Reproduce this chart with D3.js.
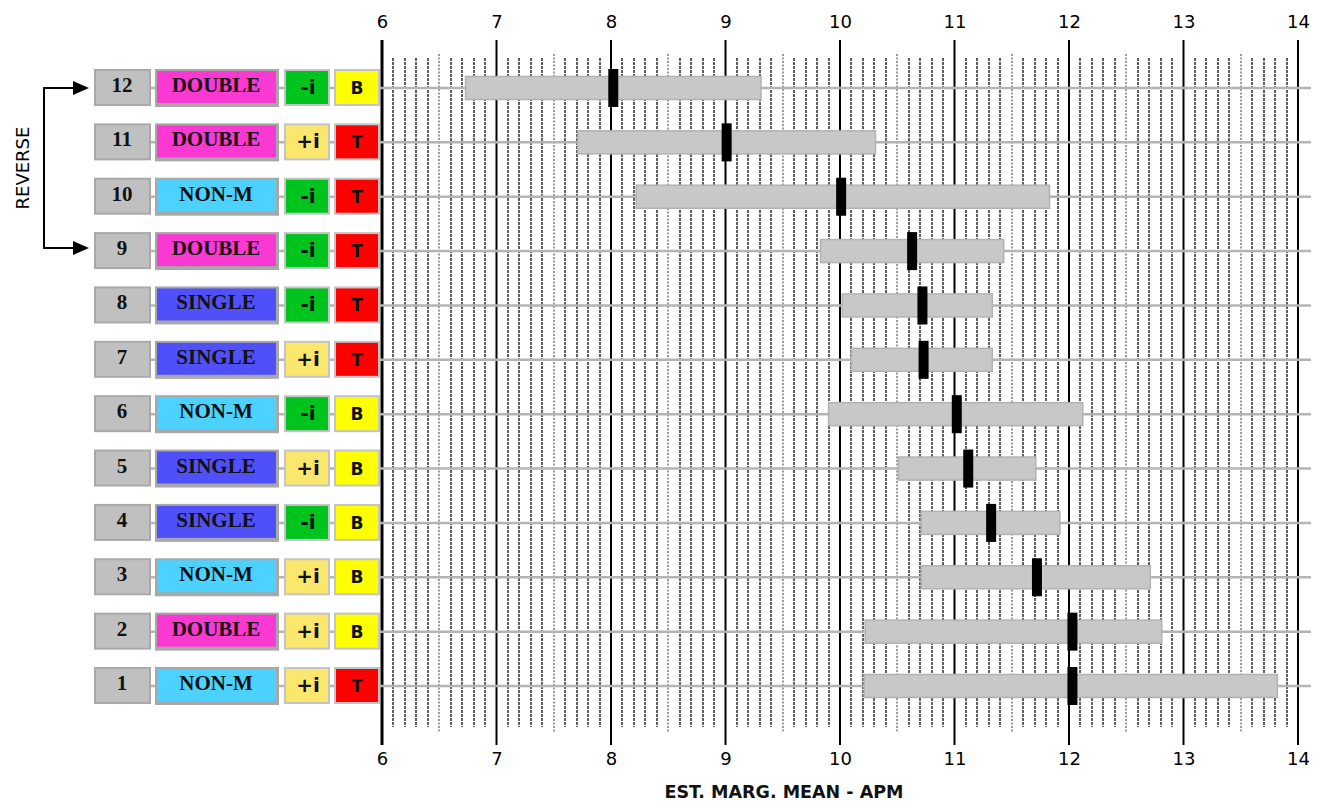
<!DOCTYPE html>
<html>
<head>
<meta charset="utf-8">
<script src="https://cdn.jsdelivr.net/npm/d3@7"></script>
<style>
  html, body { margin: 0; padding: 0; background: #fff; }
  svg { display: block; }
</style>
</head>
<body>
<svg id="chart" width="1324" height="802"></svg>
<script>
// Condition rows, listed top to bottom
const rowIds   = [12, 11, 10, 9, 8, 7, 6, 5, 4, 3, 2, 1];
const designs  = ["DOUBLE", "DOUBLE", "NON-M", "DOUBLE", "SINGLE", "SINGLE", "NON-M", "SINGLE", "SINGLE", "NON-M", "DOUBLE", "NON-M"];
const inclines = ["-i", "+i", "-i", "-i", "-i", "+i", "-i", "+i", "-i", "+i", "+i", "+i"];
const places   = ["B", "T", "T", "T", "T", "T", "B", "B", "B", "B", "B", "T"];

// Estimated marginal means and interval bounds
const means  = [8.02, 9.01, 10.01, 10.63, 10.72, 10.73, 11.02, 11.12, 11.32, 11.72, 12.03, 12.03];
const lowers = [6.73, 7.71, 8.22, 9.83, 10.02, 10.10, 9.90, 10.51, 10.71, 10.71, 10.22, 10.21];
const uppers = [9.31, 10.31, 11.83, 11.43, 11.33, 11.33, 12.12, 11.71, 11.92, 12.71, 12.81, 13.82];

// Axis ticks
const majorTicks = [6, 7, 8, 9, 10, 11, 12, 13, 14];
const axisTitle = "EST. MARG. MEAN - APM";

const designColor = { "DOUBLE": "#fa38d2", "NON-M": "#4dd2ff", "SINGLE": "#5050fa" };
const inclineColor = { "-i": "#00c41e", "+i": "#fbe76e" };
const placeColor = { "T": "#ff0000", "B": "#ffff00" };

const svg = d3.select("#chart");
const x = d3.scaleLinear().domain([6, 14]).range([382, 1298]);
const y = d3.scalePoint().domain(rowIds).range([88, 686]);

const rows = rowIds.map((id, i) => ({
  id, design: designs[i], incline: inclines[i], place: places[i],
  mean: means[i], lo: lowers[i], hi: uppers[i]
}));

// Minor grid at every tenth; the half-unit lines are finer and a bit longer
const minor = d3.range(61, 140).filter(v => v % 10 !== 0).map(v => v / 10);
const isHalf = d => Math.round(d * 10) % 5 === 0;
svg.append("g").selectAll("line").data(minor).join("line")
  .attr("x1", d => Math.round(x(d))).attr("x2", d => Math.round(x(d)))
  .attr("y1", d => isHalf(d) ? 54 : 58)
  .attr("y2", d => isHalf(d) ? 732 : 727)
  .attr("stroke", d => isHalf(d) ? "#7a7a7a" : "#5e5e5e")
  .attr("stroke-width", d => isHalf(d) ? 1.5 : 2)
  .attr("stroke-dasharray", d => isHalf(d) ? "2,1.5" : "3,1");

// Major axis lines
svg.append("g").selectAll("line").data(majorTicks).join("line")
  .attr("x1", d => x(d)).attr("x2", d => x(d))
  .attr("y1", 40).attr("y2", 745)
  .attr("stroke", "#000")
  .attr("stroke-width", d => d === 6 ? 3 : 2);

// Tick labels, top and bottom, via d3 axes
const axisTop = d3.axisTop(x).tickValues(majorTicks).tickSize(0).tickPadding(0);
const axisBottom = d3.axisBottom(x).tickValues(majorTicks).tickSize(0).tickPadding(0);
const gTop = svg.append("g").attr("transform", "translate(0,28)").call(axisTop);
const gBot = svg.append("g").attr("transform", "translate(0,752)").call(axisBottom);
[gTop, gBot].forEach(g => {
  g.select(".domain").remove();
  g.selectAll("text")
    .attr("font-family", "DejaVu Sans, sans-serif")
    .attr("font-size", 18)
    .attr("fill", "#000");
});
gTop.selectAll("text").attr("dy", 0);
gBot.selectAll("text").attr("dy", "0.71em");

svg.append("text")
  .attr("x", 784).attr("y", 798)
  .attr("text-anchor", "middle")
  .attr("font-family", "DejaVu Sans, sans-serif")
  .attr("font-weight", "bold")
  .attr("font-size", 17.5)
  .attr("fill", "#111")
  .text(axisTitle);

// Row guide lines
svg.append("g").selectAll("line").data(rows).join("line")
  .attr("x1", 150).attr("x2", 1311)
  .attr("y1", d => y(d.id)).attr("y2", d => y(d.id))
  .attr("stroke", "#b4b4b4").attr("stroke-width", 2.5);

// Interval bars
svg.append("g").selectAll("rect").data(rows).join("rect")
  .attr("x", d => x(d.lo)).attr("width", d => x(d.hi) - x(d.lo))
  .attr("y", d => y(d.id) - 11.5).attr("height", 23)
  .attr("fill", "#c8c8c8").attr("stroke", "#b2b2b2").attr("stroke-width", 1.5);

// Mean markers
svg.append("g").selectAll("rect").data(rows).join("rect")
  .attr("x", d => x(d.mean) - 5).attr("width", 10)
  .attr("y", d => y(d.id) - 19).attr("height", 38)
  .attr("fill", "#000");

// Label boxes
const lab = svg.append("g").selectAll("g").data(rows).join("g")
  .attr("transform", d => `translate(0,${y(d.id)})`);

// number box
lab.append("rect").attr("x", 95).attr("y", -18).attr("width", 55).attr("height", 35)
  .attr("fill", "#c0c0c0").attr("stroke", "#a9a9a9").attr("stroke-width", 2);
lab.append("text").attr("x", 122).attr("y", 4)
  .attr("text-anchor", "middle")
  .attr("font-family", "Liberation Serif, serif").attr("font-weight", "bold")
  .attr("font-size", 21).attr("fill", "#111")
  .text(d => d.id);

// design box with heavier lower edge
lab.append("rect").attr("x", 155).attr("y", -19).attr("width", 124).attr("height", 38)
  .attr("fill", "#a8a8a8");
lab.append("rect").attr("x", 157).attr("y", -17).attr("width", 119).attr("height", 32)
  .attr("fill", d => designColor[d.design]);
lab.append("text").attr("x", 216).attr("y", 4)
  .attr("text-anchor", "middle")
  .attr("font-family", "Liberation Serif, serif").attr("font-weight", "bold")
  .attr("font-size", 21).attr("fill", "#111")
  .text(d => d.design);

// incline box
lab.append("rect").attr("x", 285).attr("y", -18).attr("width", 44).attr("height", 35)
  .attr("fill", d => inclineColor[d.incline]).attr("stroke", "#c4c4c4").attr("stroke-width", 2);
lab.append("text").attr("x", 308).attr("y", 6)
  .attr("text-anchor", "middle")
  .attr("font-family", "DejaVu Sans, sans-serif").attr("font-weight", "bold")
  .attr("font-size", 20).attr("fill", "#111")
  .text(d => d.incline);

// place box
lab.append("rect").attr("x", 335).attr("y", -18).attr("width", 44).attr("height", 35)
  .attr("fill", d => placeColor[d.place]).attr("stroke", "#c4c4c4").attr("stroke-width", 2);
lab.append("text").attr("x", 357).attr("y", 6)
  .attr("text-anchor", "middle")
  .attr("font-family", "DejaVu Sans, sans-serif").attr("font-weight", "bold")
  .attr("font-size", 17).attr("fill", "#111")
  .text(d => d.place);

// Reverse bracket between rows 12 and 9
const yA = y(12), yB = y(9) - 3;
svg.append("path")
  .attr("d", `M80,${yA} H44 V${yB} H80`)
  .attr("fill", "none").attr("stroke", "#000").attr("stroke-width", 2);
[yA, yB].forEach(yy => {
  svg.append("path")
    .attr("d", `M73,${yy - 7} L89,${yy} L73,${yy + 7} Z`)
    .attr("fill", "#000");
});
svg.append("text")
  .attr("transform", `translate(29,${(yA + yB) / 2}) rotate(-90)`)
  .attr("text-anchor", "middle")
  .attr("font-family", "DejaVu Sans, sans-serif")
  .attr("font-size", 18).attr("fill", "#000")
  .text("REVERSE");
</script>
</body>
</html>
